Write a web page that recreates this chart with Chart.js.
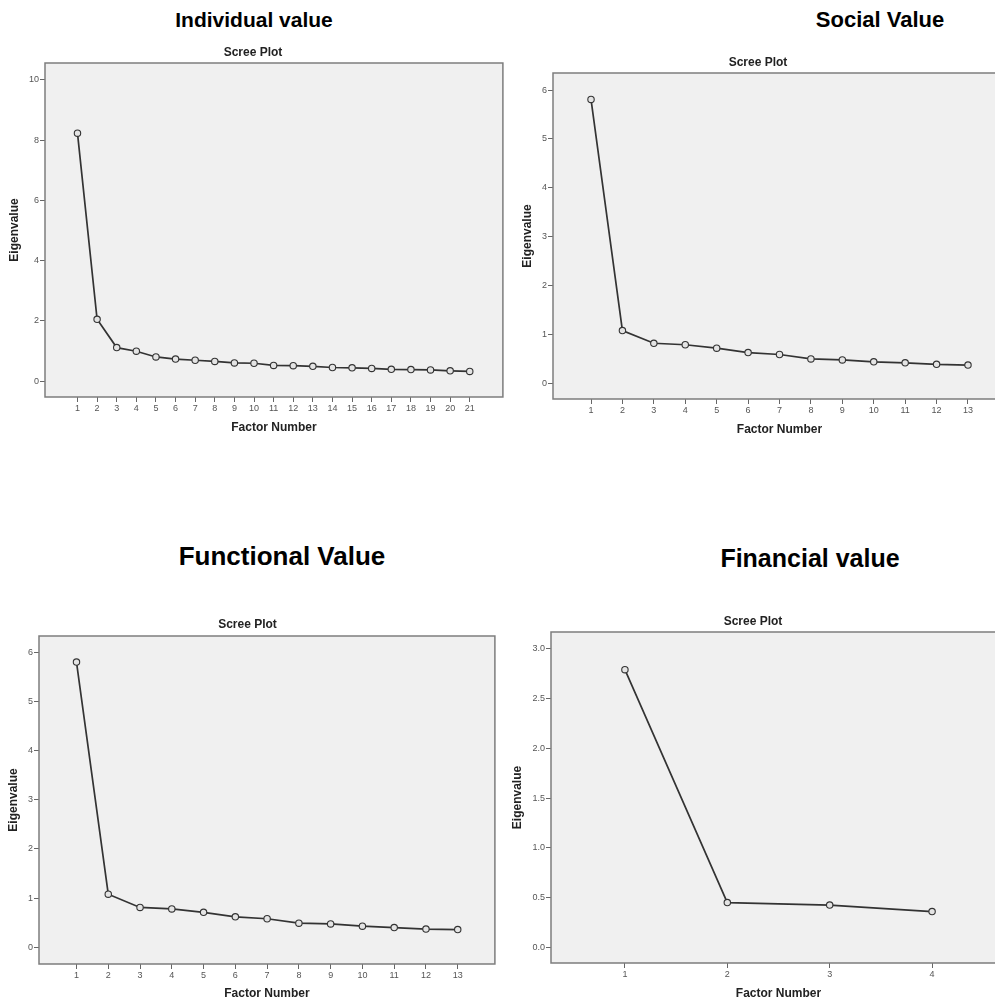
<!DOCTYPE html>
<html>
<head>
  <title>Scree Plots</title>
  <script src="https://cdn.jsdelivr.net/npm/chart.js"></script>
  <style>
    body { margin: 0; width: 995px; height: 1001px; overflow: hidden; background: #fff; position: relative; font-family: "Liberation Sans", Arial, sans-serif; }
    .head { position: absolute; font-weight: bold; color: #000; transform: translate(-50%, -50%); white-space: nowrap; }
  </style>
</head>
<body>
  <div class="head" style="left:254px;top:20px;font-size:21px">Individual value</div>
  <div class="head" style="left:880px;top:20px;font-size:22px">Social Value</div>
  <div class="head" style="left:282px;top:556px;font-size:26px">Functional Value</div>
  <div class="head" style="left:810px;top:558px;font-size:25px">Financial value</div>

  <script>
    // eigenvalues
    var individualFactors = [1, 2, 3, 4, 5, 6, 7, 8, 9, 10, 11, 12, 13, 14, 15, 16, 17, 18, 19, 20, 21];
    var individualEigen = [8.23, 2.05, 1.11, 0.99, 0.80, 0.73, 0.69, 0.65, 0.60, 0.59, 0.52, 0.51, 0.49, 0.45, 0.44, 0.42, 0.39, 0.38, 0.37, 0.34, 0.32];
    var individualYTicks = [0, 2, 4, 6, 8, 10];
    var individualYLabels = ["0", "2", "4", "6", "8", "10"];

    var socialFactors = [1, 2, 3, 4, 5, 6, 7, 8, 9, 10, 11, 12, 13];
    var socialEigen = [5.81, 1.08, 0.82, 0.79, 0.72, 0.63, 0.59, 0.50, 0.48, 0.44, 0.42, 0.39, 0.375];
    var socialYTicks = [0, 1, 2, 3, 4, 5, 6];
    var socialYLabels = ["0", "1", "2", "3", "4", "5", "6"];

    var functionalFactors = [1, 2, 3, 4, 5, 6, 7, 8, 9, 10, 11, 12, 13];
    var functionalEigen = [5.80, 1.08, 0.81, 0.78, 0.71, 0.62, 0.58, 0.49, 0.475, 0.43, 0.40, 0.37, 0.36];
    var functionalYTicks = [0, 1, 2, 3, 4, 5, 6];
    var functionalYLabels = ["0", "1", "2", "3", "4", "5", "6"];

    var financialFactors = [1, 2, 3, 4];
    var financialEigen = [2.79, 0.45, 0.425, 0.36];
    var financialYTicks = [0, 0.5, 1, 1.5, 2, 2.5, 3];
    var financialYLabels = ["0.0", "0.5", "1.0", "1.5", "2.0", "2.5", "3.0"];

    var FONT = '"Liberation Sans", Arial, sans-serif';
    Chart.defaults.font.family = FONT;

    // grey plot background and frame, like SPSS
    var boxPlugin = {
      id: "box",
      beforeDatasetsDraw: function(chart) {
        var a = chart.chartArea, ctx = chart.ctx;
        ctx.save();
        ctx.fillStyle = "#f0f0f0";
        ctx.fillRect(a.left, a.top, a.right - a.left, a.bottom - a.top);
        ctx.strokeStyle = "#7d7d7d";
        ctx.lineWidth = 1.5;
        ctx.strokeRect(a.left, a.top, a.right - a.left, a.bottom - a.top);
        ctx.restore();
      }
    };

    function screePlot(o) {
      var f = o.frame, b = o.box;
      var cv = document.createElement("canvas");
      cv.width = f[2];
      cv.height = f[3];
      cv.style.position = "absolute";
      cv.style.left = f[0] + "px";
      cv.style.top = f[1] + "px";
      document.body.appendChild(cv);

      var lh = 14.4;
      var right = f[0] + f[2], bottom = f[1] + f[3];
      var titleTop = o.titleY - f[1] - lh / 2;

      new Chart(cv, {
        type: "line",
        data: {
          datasets: [{
            data: o.xs.map(function(x, i) { return { x: x, y: o.ys[i] }; }),
            borderColor: "#333",
            borderWidth: 1.7,
            pointRadius: 3.2,
            pointBorderColor: "#333",
            pointBorderWidth: 1.1,
            pointBackgroundColor: "#e4e4e4",
            tension: 0
          }]
        },
        options: {
          responsive: false,
          animation: false,
          events: [],
          layout: { padding: { left: 0, top: 0, bottom: 0, right: right - b.right } },
          plugins: {
            legend: { display: false },
            tooltip: { enabled: false },
            title: {
              display: true,
              text: "Scree Plot",
              color: "#222",
              font: { size: 12, weight: "bold", lineHeight: 1.2 },
              padding: { top: titleTop, bottom: b.top - f[1] - titleTop - lh }
            }
          },
          scales: {
            x: {
              type: "linear",
              min: o.xMin,
              max: o.xMax,
              afterFit: function(s) { s.height = bottom - b.bottom; },
              afterBuildTicks: function(s) { s.ticks = o.xs.map(function(v) { return { value: v }; }); },
              grid: { drawOnChartArea: false, drawTicks: true, tickLength: 5, color: "#666" },
              border: { display: false },
              ticks: { font: { size: 9 }, color: "#555", padding: 1, maxRotation: 0, autoSkip: false,
                callback: function(v) { return String(v); } },
              title: {
                display: true,
                text: "Factor Number",
                color: "#222",
                font: { size: 12, weight: "bold", lineHeight: 1.2 },
                padding: { top: 0, bottom: bottom - o.xTitleY - lh / 2 }
              }
            },
            y: {
              min: o.yMin,
              max: o.yMax,
              afterFit: function(s) { s.width = b.left - f[0]; },
              afterBuildTicks: function(s) { s.ticks = o.yTicks.map(function(v) { return { value: v }; }); },
              grid: { drawOnChartArea: false, drawTicks: true, tickLength: 5, color: "#666" },
              border: { display: false },
              ticks: { font: { size: 9 }, color: "#555", padding: 1,
                callback: function(v, i) { return o.yLabels[i]; } },
              title: {
                display: true,
                text: "Eigenvalue",
                color: "#222",
                font: { size: 12, weight: "bold", lineHeight: 1.2 },
                padding: { top: o.yTitleX - f[0] - lh / 2, bottom: 0 }
              }
            }
          }
        },
        plugins: [boxPlugin]
      });
    }

    screePlot({
      frame: [0, 40, 508, 400], box: { left: 45, top: 63, right: 506, bottom: 397 },
      titleY: 53, yTitleX: 15, xTitleY: 428,
      xMin: -0.656, xMax: 22.69, yMin: -0.53, yMax: 10.56,
      xs: individualFactors, ys: individualEigen, yTicks: individualYTicks, yLabels: individualYLabels
    });

    screePlot({
      frame: [510, 50, 504, 400], box: { left: 553, top: 73, right: 1006, bottom: 399 },
      titleY: 63, yTitleX: 528, xTitleY: 430,
      xMin: -0.21, xMax: 14.21, yMin: -0.32, yMax: 6.35,
      xs: socialFactors, ys: socialEigen, yTicks: socialYTicks, yLabels: socialYLabels
    });

    screePlot({
      frame: [0, 610, 500, 391], box: { left: 39, top: 636, right: 495, bottom: 964 },
      titleY: 625, yTitleX: 14, xTitleY: 994,
      xMin: -0.18, xMax: 14.17, yMin: -0.34, yMax: 6.33,
      xs: functionalFactors, ys: functionalEigen, yTicks: functionalYTicks, yLabels: functionalYLabels
    });

    screePlot({
      frame: [500, 605, 514, 396], box: { left: 551, top: 632, right: 1006, bottom: 963 },
      titleY: 622, yTitleX: 518, xTitleY: 994,
      xMin: 0.278, xMax: 4.722, yMin: -0.157, yMax: 3.168,
      xs: financialFactors, ys: financialEigen, yTicks: financialYTicks, yLabels: financialYLabels
    });
  </script>
</body>
</html>
